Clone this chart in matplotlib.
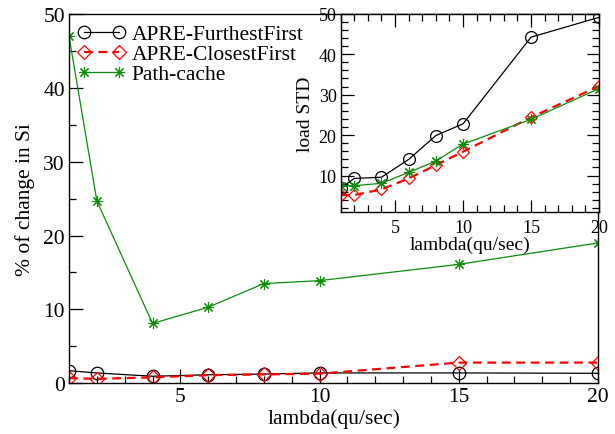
import matplotlib
matplotlib.use("Agg")
import matplotlib.pyplot as plt
from matplotlib.ticker import MultipleLocator

plt.rcParams['font.family'] = ['Liberation Serif', 'DejaVu Serif']
plt.rcParams['mathtext.fontset'] = 'stix'

# arrival rates (queries per second)
lam = [1, 2, 4, 6, 8, 10, 15, 20]

# % of change in Si
si_furthest = [1.7, 1.4, 0.95, 1.15, 1.25, 1.4, 1.4, 1.35]
si_closest = [0.7, 0.6, 0.8, 1.1, 1.2, 1.3, 2.8, 2.8]
si_pathcache = [47.0, 24.7, 8.1, 10.3, 13.5, 13.9, 16.1, 19.0]

# load standard deviation
std_furthest = [6.9, 9.3, 9.6, 14.0, 19.9, 22.8, 44.2, 49.1]
std_closest = [5.2, 5.2, 6.6, 9.3, 12.6, 15.9, 24.4, 32.1]
std_pathcache = [7.5, 7.5, 8.1, 10.8, 13.6, 17.8, 23.9, 31.5]

labels = ["APRE-FurthestFirst", "APRE-ClosestFirst", "Path-cache"]
GREEN = "#0b8c0b"
STAR = (8, 2, 0)

fig = plt.figure(figsize=(6.15, 4.35), dpi=100)

# ---- main panel ----
ax = fig.add_axes([0.1122, 0.1166, 0.8602, 0.8489])
ax.plot(lam, si_furthest, color="black", lw=0.9, marker="o", ms=9,
        mfc="none", mec="black", mew=0.9, label=labels[0])
ax.plot(lam, si_closest, color="red", lw=1.6, ls=(0, (4, 2.5)), marker="D", ms=7,
        mfc="none", mec="red", mew=0.9, label=labels[1])
ax.plot(lam, si_pathcache, color=GREEN, lw=0.9, marker=STAR, ms=8,
        mec=GREEN, mew=0.8, label=labels[2])
ax.set_xlim(1, 20)
ax.set_ylim(0, 50)
ax.xaxis.set_major_locator(MultipleLocator(5))
ax.xaxis.set_minor_locator(MultipleLocator(1))
ax.yaxis.set_major_locator(MultipleLocator(10))
ax.yaxis.set_minor_locator(MultipleLocator(5))
ax.tick_params(which="both", direction="in", top=False, right=False,
               labelsize=15.5, width=0.9, pad=3)
ax.tick_params(which="major", length=10)
ax.tick_params(which="minor", length=5)
for s in ax.spines.values():
    s.set_linewidth(1.0)
ax.set_xlabel("lambda(qu/sec)", fontsize=15.5, labelpad=1)
ax.set_ylabel("% of change in Si", fontsize=15.5, labelpad=6)
leg = ax.legend(loc="upper left", frameon=False, fontsize=15.5, numpoints=2,
                handlelength=2.2, handletextpad=0.3, labelspacing=0.0,
                borderaxespad=0.0, bbox_to_anchor=(0.0, 0.996))

# ---- inset panel ----
ins = fig.add_axes([0.554, 0.5103, 0.420, 0.4559])
ins.plot(lam, std_furthest, color="black", lw=0.9, marker="o", ms=8.5,
         mfc="none", mec="black", mew=0.9)
ins.plot(lam, std_closest, color="red", lw=1.6, ls=(0, (4, 2.5)), marker="D", ms=6.5,
         mfc="none", mec="red", mew=0.9)
ins.plot(lam, std_pathcache, color=GREEN, lw=0.9, marker=STAR, ms=8,
         mec=GREEN, mew=0.8)
ins.set_xlim(1, 20)
ins.set_ylim(1, 50)
ins.xaxis.set_major_locator(MultipleLocator(5))
ins.xaxis.set_minor_locator(MultipleLocator(1))
ins.yaxis.set_major_locator(MultipleLocator(10))
ins.yaxis.set_minor_locator(MultipleLocator(2))
ins.tick_params(which="both", direction="in", top=True, right=True,
                labelsize=13, width=0.9)
ins.tick_params(axis="y", pad=3)
ins.tick_params(axis="x", pad=5)
ins.tick_params(which="major", length=9)
ins.tick_params(which="minor", length=5)
for s in ins.spines.values():
    s.set_linewidth(1.0)
ins.set_xlabel("lambda(qu/sec)", fontsize=14, labelpad=0)
ins.set_ylabel("load STD", fontsize=14, labelpad=3)

fig.savefig("out.png", dpi=100)
